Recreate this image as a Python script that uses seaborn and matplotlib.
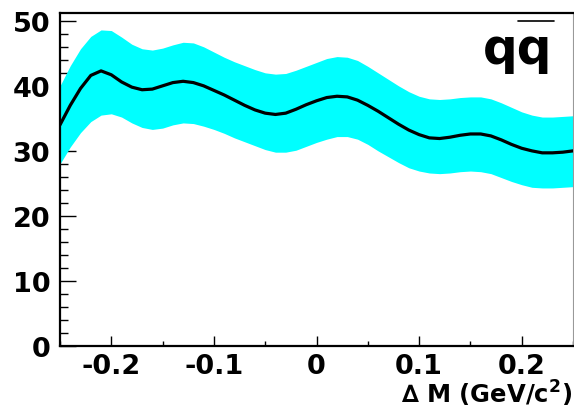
import numpy as np
import pandas as pd
import matplotlib
matplotlib.use("Agg")
import matplotlib.pyplot as plt
import seaborn as sns
from matplotlib.ticker import MultipleLocator, FixedLocator, FixedFormatter
from matplotlib.lines import Line2D

# ---- data ----
delta_m = [-0.25, -0.24, -0.23, -0.22, -0.21, -0.20, -0.19, -0.18, -0.17, -0.16,
           -0.15, -0.14, -0.13, -0.12, -0.11, -0.10, -0.09, -0.08, -0.07, -0.06,
           -0.05, -0.04, -0.03, -0.02, -0.01, 0.00, 0.01, 0.02, 0.03, 0.04,
           0.05, 0.06, 0.07, 0.08, 0.09, 0.10, 0.11, 0.12, 0.13, 0.14,
           0.15, 0.16, 0.17, 0.18, 0.19, 0.20, 0.21, 0.22, 0.23, 0.24, 0.25]
central = [34.0, 37.0, 39.6, 41.6, 42.3, 41.7, 40.6, 39.8, 39.4, 39.5,
           40.0, 40.5, 40.7, 40.5, 40.0, 39.3, 38.6, 37.8, 37.0, 36.3,
           35.8, 35.6, 35.8, 36.4, 37.1, 37.7, 38.2, 38.4, 38.3, 37.8,
           37.0, 36.1, 35.1, 34.1, 33.2, 32.5, 32.0, 31.9, 32.1, 32.4,
           32.6, 32.6, 32.3, 31.7, 31.0, 30.4, 30.0, 29.7, 29.7, 29.8, 30.0]
upper = [40.0, 43.1, 45.7, 47.6, 48.6, 48.5, 47.5, 46.4, 45.7, 45.5,
         45.8, 46.3, 46.7, 46.6, 46.0, 45.2, 44.4, 43.7, 43.1, 42.5,
         42.0, 41.8, 41.9, 42.4, 43.0, 43.6, 44.2, 44.5, 44.4, 43.9,
         43.0, 42.0, 41.0, 40.0, 39.1, 38.4, 38.0, 37.9, 38.0, 38.2,
         38.3, 38.3, 38.0, 37.4, 36.7, 36.0, 35.5, 35.2, 35.2, 35.3, 35.4]
lower = [28.0, 30.6, 32.8, 34.5, 35.5, 35.7, 35.2, 34.3, 33.6, 33.3,
         33.5, 34.0, 34.3, 34.2, 33.8, 33.3, 32.7, 32.0, 31.4, 30.8,
         30.2, 29.8, 29.8, 30.1, 30.7, 31.3, 31.8, 32.2, 32.2, 31.8,
         31.0, 30.0, 29.1, 28.2, 27.4, 26.9, 26.6, 26.5, 26.6, 26.8,
         26.9, 26.8, 26.5, 25.9, 25.3, 24.8, 24.4, 24.3, 24.3, 24.4, 24.5]
x_ticks = [-0.2, -0.1, 0.0, 0.1, 0.2]
x_tick_labels = ["-0.2", "-0.1", "0", "0.1", "0.2"]
y_ticks = [0, 10, 20, 30, 40, 50]
y_tick_labels = ["0", "10", "20", "30", "40", "50"]

df = pd.DataFrame({"dm": delta_m, "c": central, "hi": upper, "lo": lower})

sns.set_style("ticks")
plt.rcParams["font.family"] = ["DejaVu Sans"]
plt.rcParams["axes.unicode_minus"] = False
plt.rcParams["text.color"] = "black"
plt.rcParams["xtick.color"] = "black"
plt.rcParams["ytick.color"] = "black"
plt.rcParams["axes.edgecolor"] = "black"

W, H = 574, 410
fig = plt.figure(figsize=(W / 100, H / 100), dpi=100)
ax = fig.add_axes([60 / W, (H - 347) / H, (573 - 60) / W, (347 - 14) / H])

ax.fill_between(df["dm"], df["lo"], df["hi"], color="#00FFFF", linewidth=0, zorder=1)
sns.lineplot(data=df, x="dm", y="c", ax=ax, color="black", linewidth=2.3, zorder=3)
for ln in ax.get_lines():
    ln.set_solid_joinstyle("round")

ax.set_xlim(-0.25, 0.25)
ax.set_ylim(0, 51.2)
ax.xaxis.set_major_locator(FixedLocator(x_ticks))
ax.xaxis.set_major_formatter(FixedFormatter(x_tick_labels))
ax.xaxis.set_minor_locator(MultipleLocator(0.05))
ax.yaxis.set_major_locator(FixedLocator(y_ticks))
ax.yaxis.set_major_formatter(FixedFormatter(y_tick_labels))
ax.yaxis.set_minor_locator(MultipleLocator(2))

ax.tick_params(axis="y", which="major", direction="in", length=11.5, width=1.0,
               pad=7, labelsize=19.5, left=True, right=False, color="black",
               labelcolor="black")
ax.tick_params(axis="y", which="minor", direction="in", length=5.8, width=1.0,
               left=True, right=False, color="black")
ax.tick_params(axis="x", which="major", direction="in", length=7.2, width=1.0,
               pad=5, labelsize=19.5, bottom=True, top=False, color="black",
               labelcolor="black")
ax.tick_params(axis="x", which="minor", direction="in", length=3.6, width=1.0,
               bottom=True, top=False, color="black")
for lab in ax.get_xticklabels() + ax.get_yticklabels():
    lab.set_fontweight("bold")

ax.set_xlabel("")
ax.set_ylabel("")
for s in ["left", "bottom", "top"]:
    ax.spines[s].set_visible(True)
    ax.spines[s].set_color("black")
    ax.spines[s].set_linewidth(1.6)
ax.spines["right"].set_visible(True)
ax.spines["right"].set_color("#999999")
ax.spines["right"].set_linewidth(0.8)

fig.text(572 / W, 1 - 404 / H, "\u2206 M (GeV/c$^{\\mathbf{2}}$)", ha="right",
         va="baseline", fontsize=17.5, fontweight="bold", color="black")

fig.text(552 / W, 1 - 64 / H, "qq", ha="right", va="baseline",
         fontsize=35, fontweight="bold", color="black")
fig.add_artist(Line2D([518 / W, 554 / W], [1 - 22 / H, 1 - 22 / H],
                      color="black", linewidth=1.2, transform=fig.transFigure))

fig.savefig("out.png", dpi=100)
